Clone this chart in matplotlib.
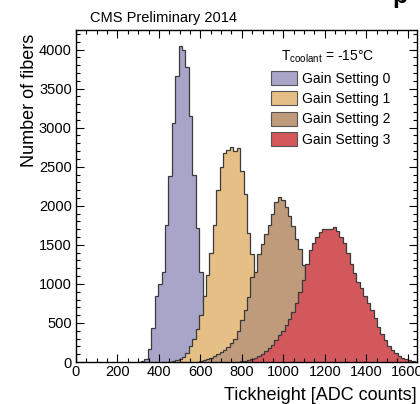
import matplotlib
matplotlib.use("Agg")
import matplotlib.pyplot as plt
import numpy as np
from matplotlib.patches import Patch
from matplotlib.ticker import MultipleLocator

plt.rcParams["font.family"] = ["Liberation Sans", "DejaVu Sans"]
plt.rcParams["mathtext.fontset"] = "custom"
plt.rcParams["mathtext.rm"] = "Liberation Sans"

bin_width = 16.5

# histogram counts per bin, first_bin is the index of the first listed bin
gain0_first_bin = 18
gain0_counts = [5, 15, 40, 170, 430, 850, 1000, 1150, 1750, 2380, 3060, 3660,
                4050, 3990, 3780, 3150, 2400, 1720, 1150, 770, 470, 260, 90, 30, 10]

gain1_first_bin = 28
gain1_counts = [10, 20, 40, 70, 120, 200, 300, 420, 600, 850, 1120, 1400, 1750,
                2200, 2500, 2680, 2720, 2750, 2700, 2740, 2450, 2150, 1650, 1380,
                1000, 700, 450, 270, 150, 70, 30, 10]

gain2_first_bin = 36
gain2_counts = [10, 20, 35, 55, 80, 105, 130, 160, 195, 238, 290, 400, 535, 662,
                832, 1087, 1151, 1384, 1512, 1639, 1750, 1900, 2050, 2106, 2080,
                1980, 1870, 1745, 1575, 1448, 1236, 1020, 800, 600, 420, 280, 170,
                100, 50, 20, 8]

gain3_first_bin = 48
gain3_counts = [10, 18, 28, 40, 55, 75, 100, 135, 175, 220, 280, 340, 400, 470,
                550, 640, 760, 890, 1050, 1250, 1430, 1520, 1600, 1660, 1700, 1700,
                1700, 1725, 1680, 1600, 1520, 1390, 1260, 1135, 1030, 950, 850, 760,
                660, 560, 450, 360, 280, 210, 160, 110, 80, 55, 35, 20, 10, 5]

labels = ["Gain Setting 0", "Gain Setting 1", "Gain Setting 2", "Gain Setting 3"]
colors = ["#a8a5c9", "#e6bf86", "#bf9b7b", "#d2585c"]

series = [(gain0_first_bin, gain0_counts), (gain1_first_bin, gain1_counts),
          (gain2_first_bin, gain2_counts), (gain3_first_bin, gain3_counts)]

fig = plt.figure(figsize=(4.2, 4.04), dpi=100)
ax = fig.add_axes([76 / 420, 1 - 362 / 404, (417 - 76) / 420, (362 - 30) / 404])

for (first, counts), col in zip(series, colors):
    edges = bin_width * (first + np.arange(len(counts) + 1))
    ax.stairs(counts, edges, fill=True, facecolor=col, edgecolor="#3a3a3a",
              linewidth=0.9)

ax.set_xlim(0, 1645)
ax.set_ylim(0, 4250)
ax.xaxis.set_major_locator(MultipleLocator(200))
ax.xaxis.set_minor_locator(MultipleLocator(50))
ax.yaxis.set_major_locator(MultipleLocator(500))
ax.yaxis.set_minor_locator(MultipleLocator(100))
ax.tick_params(which="both", direction="in", top=True, right=True, width=0.8,
               labelsize=10.5)
ax.tick_params(which="major", length=6)
ax.tick_params(which="minor", length=3)
ax.tick_params(axis="x", pad=2.5)
ax.tick_params(axis="y", pad=3)
for s in ax.spines.values():
    s.set_linewidth(1.0)

fig.text(417 / 420, 1 - 395 / 404, "Tickheight [ADC counts]", ha="right",
         va="center", fontsize=13)
fig.text(29 / 420, 1 - 34 / 404, "Number of fibers", rotation=90, ha="center",
         va="top", fontsize=13)
fig.text(90 / 420, 1 - 18 / 404, "CMS Preliminary 2014", ha="left", va="center",
         fontsize=10.5)
fig.text(0.935, 1.01, "p", fontsize=18, fontweight="bold", va="center")

handles = [Patch(facecolor=c, edgecolor="#555555", linewidth=0.8) for c in colors]
ax.legend(handles, labels, loc="upper left", bbox_to_anchor=(0.572, 0.877),
          frameon=False, fontsize=10, handlelength=1.9, handleheight=1.2,
          handletextpad=0.35, labelspacing=0.4, borderpad=0, borderaxespad=0)
ax.text(0.60, 0.92, r"T$_{\mathregular{coolant}}$ = -15°C", transform=ax.transAxes,
        fontsize=10, va="center", ha="left")

fig.savefig("out.png", dpi=100)
